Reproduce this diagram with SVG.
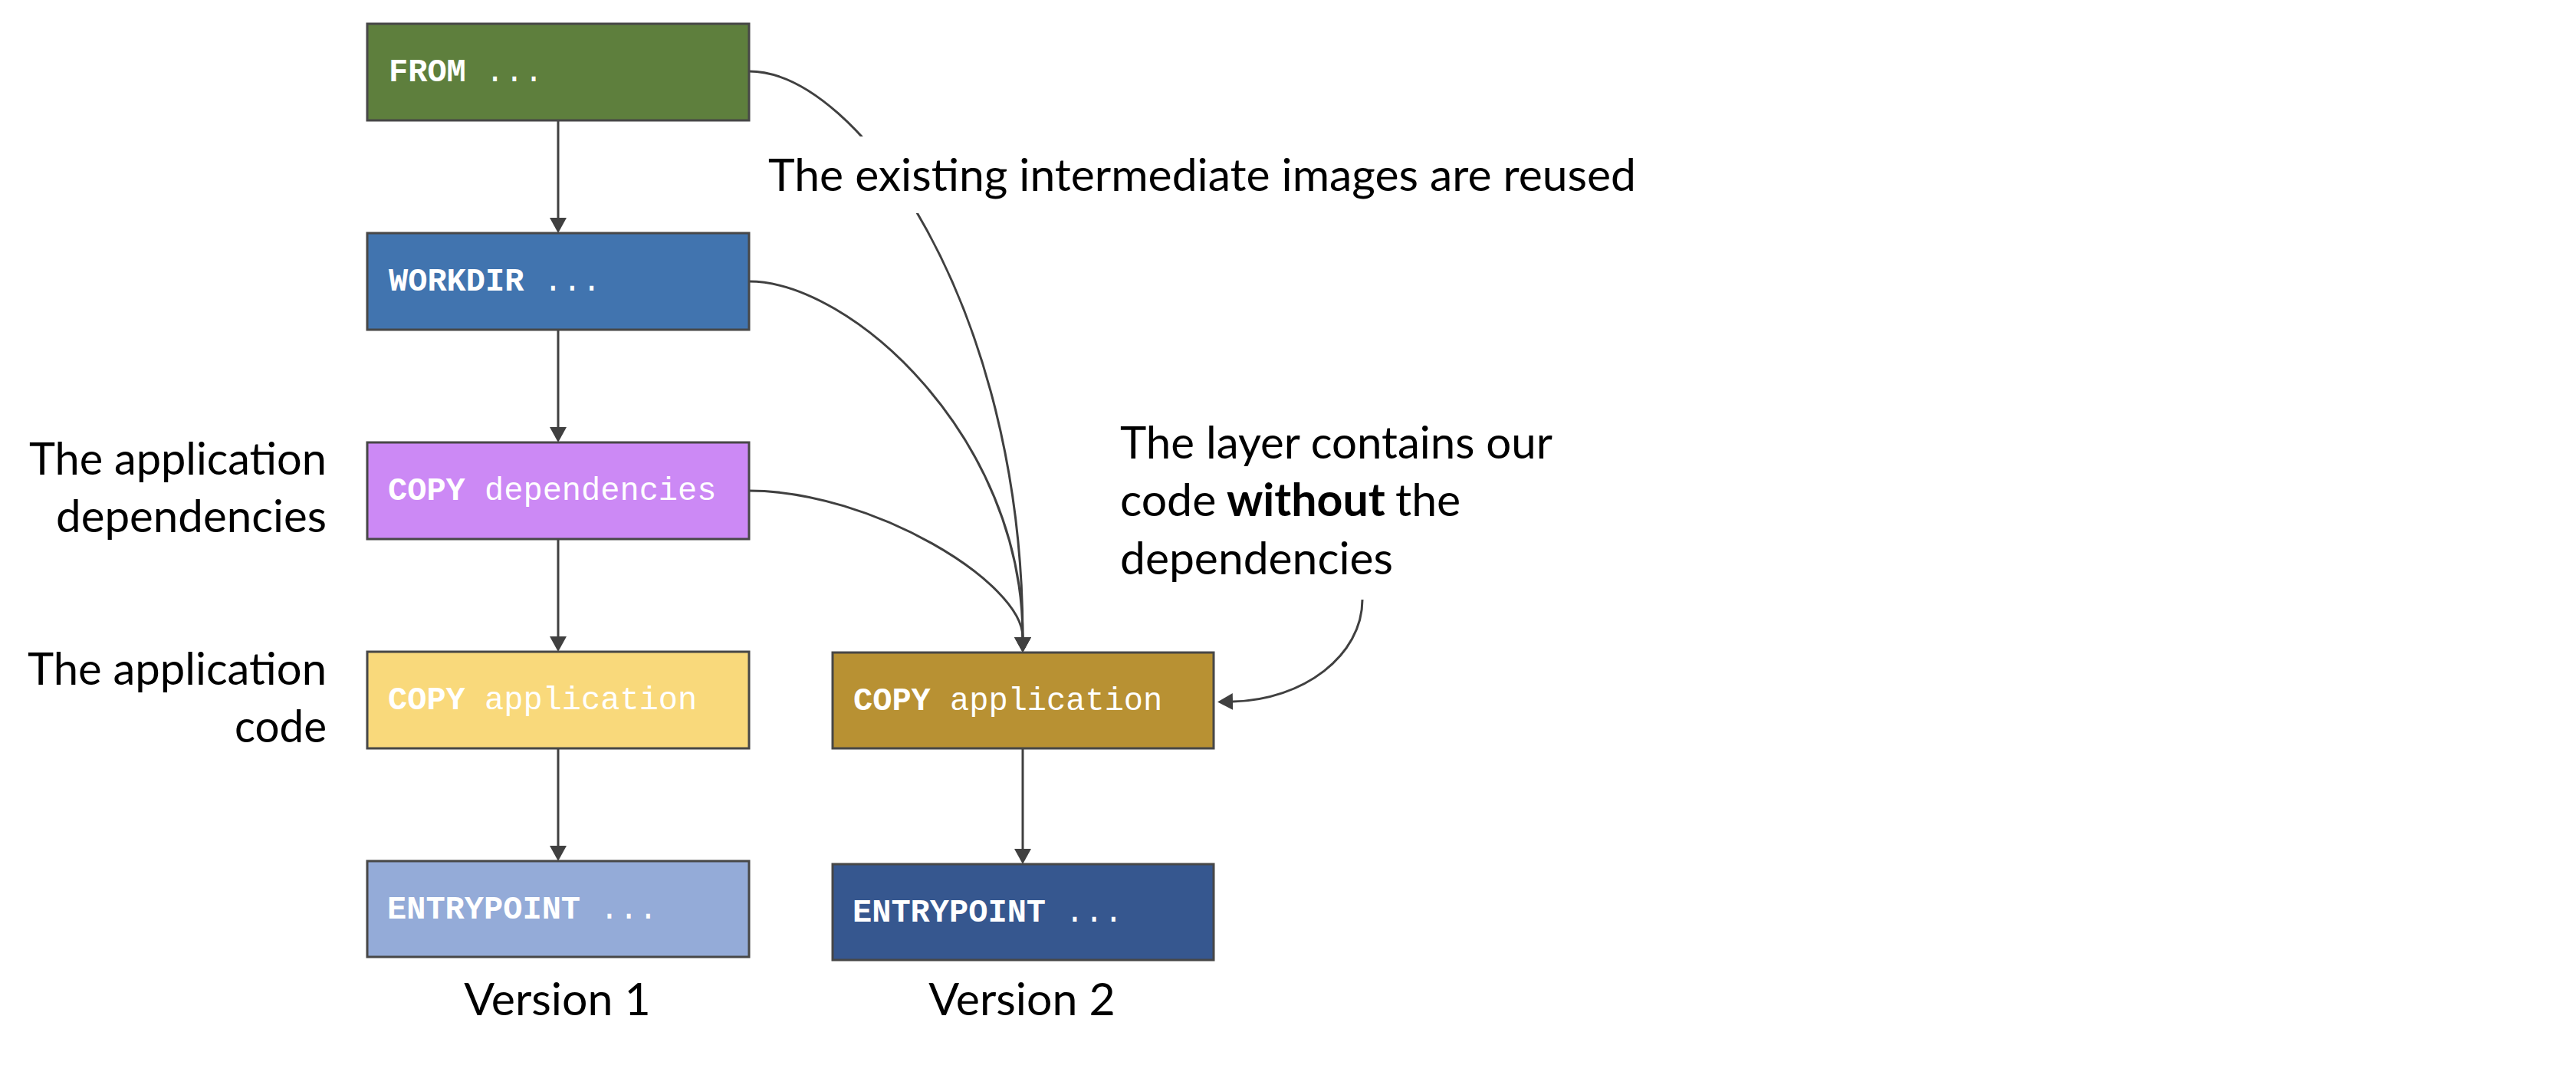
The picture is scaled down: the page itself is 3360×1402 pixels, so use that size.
<svg xmlns="http://www.w3.org/2000/svg" width="3360" height="1402" viewBox="0 0 3360 1402">
<style>
.box{stroke:#474747;stroke-width:3}
.mono{font-family:"Liberation Mono","Courier New",monospace;font-size:42px;fill:#ffffff}
.kw{font-weight:bold}
.lbl{font-family:Lato,"Open Sans",sans-serif;font-size:59px;fill:#000000}
.conn{fill:none;stroke:#404040;stroke-width:3}
</style>
<defs>
<marker id="ah" markerUnits="userSpaceOnUse" markerWidth="20" markerHeight="22" viewBox="0 0 20 22" refX="0" refY="11" orient="auto">
<path d="M0,0 L20,11 L0,22 Z" fill="#404040"/>
</marker>
</defs>
<rect width="3360" height="1402" fill="#ffffff"/>

<g id="connectors">
<path class="conn" d="M728,157 L728,284" marker-end="url(#ah)"/>
<path class="conn" d="M728,430 L728,557" marker-end="url(#ah)"/>
<path class="conn" d="M728,703 L728,830" marker-end="url(#ah)"/>
<path class="conn" d="M728,976 L728,1103" marker-end="url(#ah)"/>
<path class="conn" d="M1334,976 L1334,1107" marker-end="url(#ah)"/>
<path class="conn" d="M977,93 C1120,93 1334,400 1334,831" marker-end="url(#ah)"/>
<path class="conn" d="M977,367 C1110,367 1334,570 1334,831" marker-end="url(#ah)"/>
<path class="conn" d="M977,640 C1138,640 1334,760 1334,831" marker-end="url(#ah)"/>
<path class="conn" d="M1777,782 C1777,855 1700,913 1608,915" marker-end="url(#ah)"/>
</g>

<g id="label-reused">
<rect x="990" y="178" width="1160" height="100" fill="#ffffff"/>
<text class="lbl" x="1002" y="249" textLength="1132" lengthAdjust="spacingAndGlyphs">The existing intermediate images are reused</text>
</g>

<g id="node-from">
<rect class="box" x="479" y="31" width="498" height="126" fill="#5E7F3D"/>
<text class="mono" x="507" y="106"><tspan class="kw">FROM</tspan> ...</text>
</g>
<g id="node-workdir">
<rect class="box" x="479" y="304" width="498" height="126" fill="#4174AF"/>
<text class="mono" x="507" y="379"><tspan class="kw">WORKDIR</tspan> ...</text>
</g>
<g id="node-copy-deps">
<rect class="box" x="479" y="577" width="498" height="126" fill="#CC89F5"/>
<text class="mono" x="506" y="652"><tspan class="kw">COPY</tspan> dependencies</text>
</g>
<g id="node-copy-app-v1">
<rect class="box" x="479" y="850" width="498" height="126" fill="#F9D97B"/>
<text class="mono" x="506" y="925"><tspan class="kw">COPY</tspan> application</text>
</g>
<g id="node-entry-v1">
<rect class="box" x="479" y="1123" width="498" height="125" fill="#94ABD8"/>
<text class="mono" x="505" y="1198"><tspan class="kw">ENTRYPOINT</tspan> ...</text>
</g>
<g id="node-copy-app-v2">
<rect class="box" x="1086" y="851" width="497" height="125" fill="#B89133"/>
<text class="mono" x="1113" y="926"><tspan class="kw">COPY</tspan> application</text>
</g>
<g id="node-entry-v2">
<rect class="box" x="1086" y="1127" width="497" height="125" fill="#36578F"/>
<text class="mono" x="1112" y="1202"><tspan class="kw">ENTRYPOINT</tspan> ...</text>
</g>

<g id="label-deps">
<text class="lbl" x="426" y="619" text-anchor="end" textLength="388" lengthAdjust="spacingAndGlyphs">The application</text>
<text class="lbl" x="426" y="694" text-anchor="end" textLength="353" lengthAdjust="spacingAndGlyphs">dependencies</text>
</g>
<g id="label-code">
<text class="lbl" x="426" y="893" text-anchor="end" textLength="390" lengthAdjust="spacingAndGlyphs">The application</text>
<text class="lbl" x="426" y="968" text-anchor="end" textLength="120" lengthAdjust="spacingAndGlyphs">code</text>
</g>
<g id="label-layer">
<text class="lbl" x="1461" y="598" textLength="564" lengthAdjust="spacingAndGlyphs">The layer contains our</text>
<text class="lbl" y="673"><tspan x="1461">code</tspan><tspan x="1600" font-weight="bold">without</tspan><tspan x="1820">the</tspan></text>
<text class="lbl" x="1461" y="749" textLength="356" lengthAdjust="spacingAndGlyphs">dependencies</text>
</g>
<g id="label-versions">
<text class="lbl" x="727" y="1324" text-anchor="middle">Version 1</text>
<text class="lbl" x="1333" y="1324" text-anchor="middle">Version 2</text>
</g>
</svg>
